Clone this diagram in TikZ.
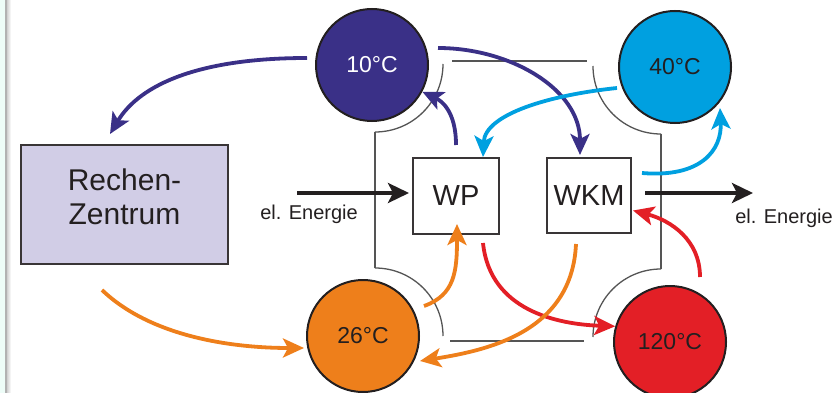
\documentclass[tikz,border=0pt]{standalone}
\usepackage{fontspec}
\setmainfont{Liberation Sans}
\usetikzlibrary{arrows.meta,calc}
\definecolor{cdblue}{HTML}{3A3087}
\definecolor{clblue}{HTML}{00A0E0}
\definecolor{corange}{HTML}{EE7F1B}
\definecolor{cred}{HTML}{E31F26}
\definecolor{clav}{HTML}{D1CDE6}
\definecolor{ctext}{HTML}{231F20}
\definecolor{cframe}{HTML}{555555}
\definecolor{cmint}{HTML}{EEFDF8}
\begin{document}
\begin{tikzpicture}[x=1pt,y=-1pt,
  circ/.style={circle,draw=ctext,line width=2pt,minimum size=112pt,inner sep=0pt,
    font=\fontsize{23}{27}\selectfont,text=ctext},
  boxn/.style={rectangle,draw=ctext!90,line width=2pt,inner sep=0pt,text=ctext},
  flow/.style={line width=3.8pt,-{Stealth[length=21pt,width=19pt,inset=5pt]}},
  eflow/.style={line width=3.8pt,draw=ctext,-{Stealth[length=21pt,width=20pt,inset=5pt]}},
  frame/.style={draw=cframe,line width=1.3pt},
  lbl/.style={font=\fontsize{20}{24}\selectfont,text=ctext,inner sep=0pt}]
\useasboundingbox (0,0) rectangle (837,393);
\clip (0,0) rectangle (837,393);
% left edge
\fill[cmint] (0,0) rectangle (5,393);
\shade[left color=gray!35,right color=white] (7,0) rectangle (11,393);
\draw[gray!60,line width=1.5pt] (6,0) -- (6,393);
% frame
\draw[frame] (375,132) -- (375,268);
\draw[frame] (661,134) -- (661,269);
\draw[frame] (452,61) -- (587,61);
\draw[frame] (450,341) -- (584,341);
\draw[frame] (375,132) .. controls (412.6,132) and (443,101.6) .. (443,64);
\draw[frame] (593,66) .. controls (593,103.6) and (623.4,134) .. (661,134);
\draw[frame] (375,268) .. controls (412.6,268) and (443,298.4) .. (443,336);
\draw[frame] (661,269) .. controls (623.4,269) and (593,299.4) .. (593,337);
% nodes
\node[circ,fill=cdblue,text=white] (c10) at (372,65) {10°C};
\node[circ,fill=clblue] (c40) at (675,67) {40°C};
\node[circ,fill=corange] (c26) at (363,336) {26°C};
\node[circ,fill=cred] (c120) at (670,342) {120°C};
\node[boxn,fill=clav,minimum width=207pt,minimum height=119pt] (rz) at (124.5,204.5) {};
\node[align=center,inner sep=0pt,text=ctext,font=\fontsize{30}{34}\selectfont] (rzt) at (124.5,197) {Rechen-\\Zentrum};
\node[boxn,fill=white,minimum width=86pt,minimum height=76pt,
  font=\fontsize{29}{33}\selectfont] (WP) at (456,196) {WP};
\node[boxn,fill=white,minimum width=84pt,minimum height=75pt,
  font=\fontsize{29}{33}\selectfont] (WKM) at (589,195.5) {WKM};
% electric energy
\coordinate (eIn) at (297,193);
\coordinate (eOut) at (753,193);
\draw[eflow,shorten >=3pt] (eIn) -- (WP.west |- eIn);
\draw[eflow] ([xshift=13pt]WKM.east |- eOut) -- (eOut);
\node[lbl] (lIn) at (309,214) {el. Energie};
\node[lbl] (lOut) at (784,218) {el. Energie};
% dark blue
\draw[flow,cdblue] ($(c10.center)+(-65,-7)$) .. controls +(-107,0) and +(30,-50) .. ($(rz.north)+(-14.5,-10)$);
\draw[flow,cdblue] ($(WP.north)+(0,-12)$) .. controls +(0,-34) and +(19,9) .. (c10.-28);
\draw[flow,cdblue] ($(c10.center)+(66,-17)$) .. controls +(72,0) and +(0,-66) .. ($(WKM.north)+(-9,-2)$);
% light blue
\draw[flow,clblue] ($(c40.center)+(-58,21)$) .. controls +(-67,7) and +(2,-43) .. ($(WP.north)+(27,0)$);
\draw[flow,clblue] ($(WKM.east)+(10,-22.5)$) .. controls +(59,5) and +(2,42) .. ($(c40.center)+(45,41)$);
% red
\draw[flow,cred] ($(WP.south)+(27,8)$) .. controls +(7,68) and +(-57,-2) .. (c120.164);
\draw[flow,cred] ($(c120.center)+(30,-65)$) .. controls +(0,-37) and +(38,10) .. ($(WKM.east)+(1,15)$);
% orange
\draw[flow,corange] ($(rz.south)+(-22.5,25)$) .. controls +(48,46) and +(-74,0) .. ($(c26.center)+(-59,12)$);
\draw[flow,corange] ($(c26.center)+(61,-30)$) .. controls +(31,-11) and +(0,47) .. ($(WP.south)+(1,-11)$);
\draw[flow,corange] ($(WKM.south)+(-13,10)$) .. controls +(-4,87) and +(70,-11) .. ($(c26.center)+(57,25)$);
\end{tikzpicture}
\end{document}
